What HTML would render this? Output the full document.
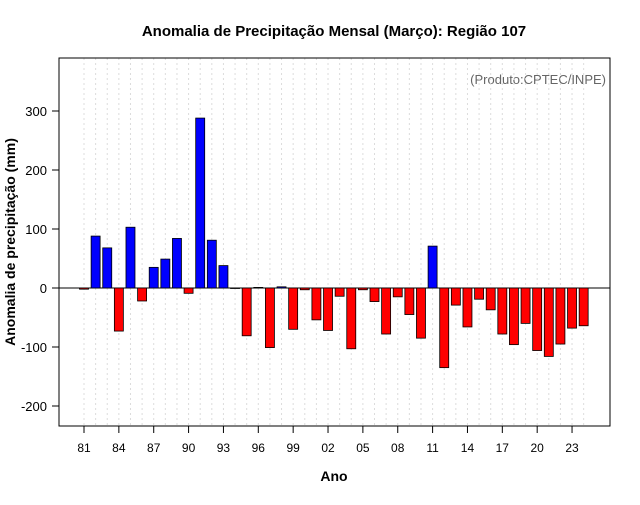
<!DOCTYPE html>
<html><head><meta charset="utf-8"><style>
body{margin:0;background:#fff;font-family:"Liberation Sans",sans-serif}
</style></head><body>
<svg id="chart" width="640" height="500" xmlns="http://www.w3.org/2000/svg">
<rect width="640" height="500" fill="#fff"/>
<text x="334" y="36" text-anchor="middle" font-size="15" font-weight="bold" font-family="Liberation Sans, DejaVu Sans, sans-serif">Anomalia de Precipitação Mensal (Março): Região 107</text>
<text x="606" y="84" text-anchor="end" font-size="13" fill="#666">(Produto:CPTEC/INPE)</text>
<text x="334" y="481" text-anchor="middle" font-size="14" font-weight="bold">Ano</text>
<text transform="translate(15,242) rotate(-90)" text-anchor="middle" font-size="14" font-weight="bold">Anomalia de precipitação (mm)</text>
<g id="grid"></g><g id="bars"></g><g id="axes"></g>
<rect x="59" y="58" width="551" height="368" fill="none" stroke="#000" stroke-width="1"/>
</svg>
<script>
const years=[1981,1982,1983,1984,1985,1986,1987,1988,1989,1990,1991,1992,1993,1994,1995,1996,1997,1998,1999,2000,2001,2002,2003,2004,2005,2006,2007,2008,2009,2010,2011,2012,2013,2014,2015,2016,2017,2018,2019,2020,2021,2022,2023,2024];
const values=[-2,88,68,-73,103,-22,35,49,84,-9,288,81,38,0,-81,1,-101,2,-70,-3,-54,-72,-14,-103,-3,-23,-78,-15,-45,-85,71,-135,-29,-66,-19,-37,-78,-96,-60,-106,-116,-95,-68,-64];
const yTicks=[-200,-100,0,100,200,300];
const xTickYears=[1981,1984,1987,1990,1993,1996,1999,2002,2005,2008,2011,2014,2017,2020,2023];
const NS="http://www.w3.org/2000/svg";
const xs=y=>84+(y-1981)*11.62;
const ys=v=>288-v*0.59;
function mk(t,a,p){const e=document.createElementNS(NS,t);for(const k in a)e.setAttribute(k,a[k]);p.appendChild(e);return e;}
const grid=document.getElementById('grid'),bars=document.getElementById('bars'),axes=document.getElementById('axes');
years.forEach(y=>{const l=mk('line',{x1:xs(y),x2:xs(y),y1:58,y2:426,stroke:'#dcdcdc','stroke-dasharray':'2,3'},grid);

});
const zl=mk('line',{x1:59,x2:610,y1:ys(0),y2:ys(0),stroke:'#000'},grid);


years.forEach((y,i)=>{const v=values[i];const top=Math.min(ys(v),ys(0));const h=Math.abs(ys(v)-ys(0));
const r=mk('rect',{x:xs(y)-4.5,y:top,width:9,height:Math.max(h,0.5),fill:v>=0?'#0000ff':'#ff0000',stroke:'#000','stroke-width':0.8},bars);

});
yTicks.forEach(v=>{mk('line',{x1:52,x2:59,y1:ys(v),y2:ys(v),stroke:'#000'},axes);
const t=mk('text',{x:47,y:ys(v)+5,'text-anchor':'end','font-size':13},axes);t.textContent=v;

});
xTickYears.forEach(y=>{mk('line',{x1:xs(y),x2:xs(y),y1:426,y2:433,stroke:'#000'},axes);
const t=mk('text',{x:xs(y),y:452,'text-anchor':'middle','font-size':12},axes);t.textContent=String(y).slice(2);

});
</script>
</body></html>
